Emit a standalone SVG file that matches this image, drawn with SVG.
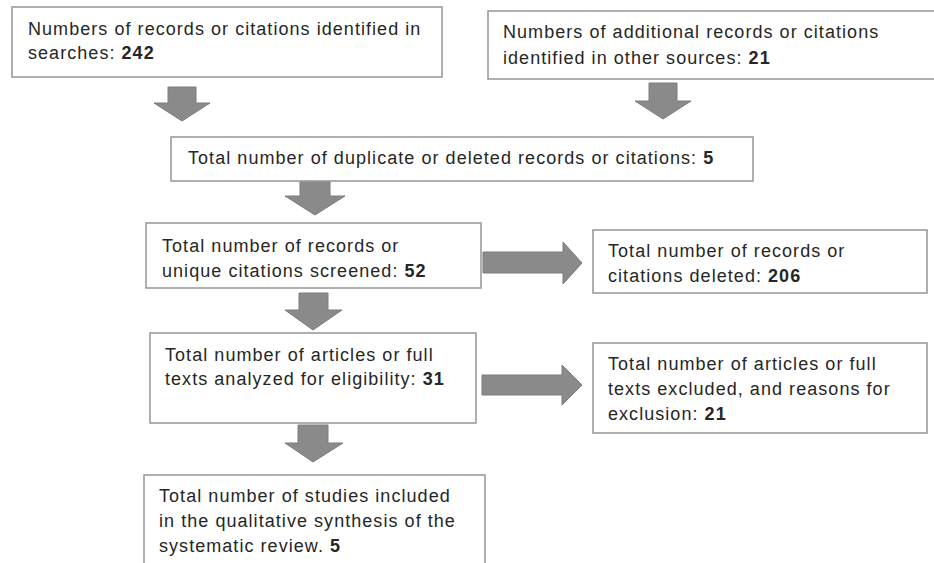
<svg xmlns="http://www.w3.org/2000/svg" width="934" height="563" viewBox="0 0 934 563">
<style>
  .box { fill: #ffffff; stroke: #9c9c9c; stroke-width: 1.6; }
  .t { font-family: "Liberation Sans", Arial, sans-serif; font-size: 18px; letter-spacing: 1.05px; fill: #262626; }
  .n { font-weight: bold; }
  .arr { fill: #8a8a8a; stroke: #7c7c7c; stroke-width: 1; }
</style>
<rect width="934" height="563" fill="#ffffff"/>
<g id="connectors">
  <polygon class="arr" points="168,87 196,87 196,103 210,103 182,121 154,103 168,103"/>
  <polygon class="arr" points="649,83 677,83 677,101 691,101 663,119 635,101 649,101"/>
  <polygon class="arr" points="300,181 330,181 330,196 345,196 315,215 285,196 300,196"/>
  <polygon class="arr" points="299,293 328,293 328,310 342,310 313,330 285,310 299,310"/>
  <polygon class="arr" points="298,425 328,425 328,443 343,443 313,462 285,443 298,443"/>
  <polygon class="arr" points="483,252 563,252 563,242 582,263 563,284 563,273 483,273"/>
  <polygon class="arr" points="482,375 562,375 562,365 582,385 562,405 562,395 482,395"/>
</g>
<g id="n1">
  <rect class="box" x="12" y="7" width="430" height="70"/>
  <text class="t" x="28" y="35">Numbers of records or citations identified in</text>
  <text class="t" x="28" y="59">searches: <tspan class="n">242</tspan></text>
</g>
<g id="n2">
  <rect class="box" x="488" y="11" width="452" height="68"/>
  <text class="t" x="503" y="38">Numbers of additional records or citations</text>
  <text class="t" x="503" y="64">identified in other sources: <tspan class="n">21</tspan></text>
</g>
<g id="n3">
  <rect class="box" x="171" y="137" width="582" height="44"/>
  <text class="t" x="188" y="164">Total number of duplicate or deleted records or citations: <tspan class="n">5</tspan></text>
</g>
<g id="n4">
  <rect class="box" x="146" y="223" width="335" height="65"/>
  <text class="t" x="162" y="252">Total number of records or</text>
  <text class="t" x="162" y="277">unique citations screened: <tspan class="n">52</tspan></text>
</g>
<g id="n5">
  <rect class="box" x="593" y="230" width="334" height="63"/>
  <text class="t" x="608" y="257">Total number of records or</text>
  <text class="t" x="608" y="282">citations deleted: <tspan class="n">206</tspan></text>
</g>
<g id="n6">
  <rect class="box" x="150" y="333" width="326" height="90"/>
  <text class="t" x="165" y="361">Total number of articles or full</text>
  <text class="t" x="165" y="385">texts analyzed for eligibility: <tspan class="n">31</tspan></text>
</g>
<g id="n7">
  <rect class="box" x="593" y="343" width="334" height="90"/>
  <text class="t" x="608" y="370">Total number of articles or full</text>
  <text class="t" x="608" y="395">texts excluded, and reasons for</text>
  <text class="t" x="608" y="420">exclusion: <tspan class="n">21</tspan></text>
</g>
<g id="n8">
  <rect class="box" x="144" y="475" width="341" height="100"/>
  <text class="t" x="159" y="502">Total number of studies included</text>
  <text class="t" x="159" y="527">in the qualitative synthesis of the</text>
  <text class="t" x="159" y="552">systematic review. <tspan class="n">5</tspan></text>
</g>
</svg>
